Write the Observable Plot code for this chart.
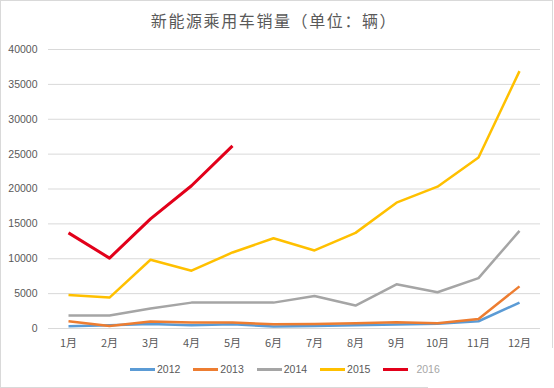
<!DOCTYPE html>
<html>
<head>
<meta charset="utf-8">
<script src="https://cdn.jsdelivr.net/npm/d3@7"></script>
<script src="https://cdn.jsdelivr.net/npm/@observablehq/plot@0.6"></script>
<style>
  html, body { margin: 0; padding: 0; background: #fff; }
  #wrap { position: relative; width: 554px; height: 388px; overflow: hidden; background: #fff; }
  #title { position: absolute; left: 0; width: 548px; top: 9px; text-align: center;
    font-family: "Noto Sans CJK SC", sans-serif; font-size: 16px; letter-spacing: 1.6px; color: #595959; line-height: 22px; }
  #chart { position: absolute; left: 0; top: 0; }
  #legend { position: absolute; left: 130px; top: 361px; display: flex; align-items: center;
    font-family: "Liberation Sans", Arial, sans-serif; font-size: 10.5px; color: #595959; line-height: 16px; }
  .item { display: flex; align-items: center; margin-right: 13px; }
  .sw { width: 25px; height: 3px; margin-right: 2px; }
  .b { position: absolute; background: #d9d9d9; }
</style>
</head>
<body>
<div id="wrap">
  <div class="b" style="left:0;top:0;width:1px;height:388px"></div>
  <div class="b" style="left:0;top:0;width:553px;height:1px"></div>
  <div class="b" style="left:552px;top:0;width:1px;height:348px"></div>
  <div class="b" style="left:0;top:387px;width:428px;height:1px"></div>
  <div id="chart"></div>
  <div id="title"></div>
  <div id="legend"></div>
</div>
<script>
const titleText = "新能源乘用车销量（单位：辆）";
const months = ["1月","2月","3月","4月","5月","6月","7月","8月","9月","10月","11月","12月"];
const years = ["2012","2013","2014","2015","2016"];
const colors = ["#5B9BD5","#ED7D31","#A5A5A5","#FFC000","#E2001A"];
const yTicks = [0,5000,10000,15000,20000,25000,30000,35000,40000];
const s2012 = [330, 470, 660, 470, 600, 290, 370, 470, 570, 680, 1040, 3710];
const s2013 = [1040, 370, 1000, 860, 860, 610, 660, 760, 900, 760, 1370, 6040];
const s2014 = [1860, 1860, 2860, 3710, 3710, 3710, 4660, 3290, 6330, 5190, 7230, 14000];
const s2015 = [4800, 4430, 9860, 8290, 10900, 12940, 11190, 13710, 18040, 20330, 24510, 36900];
const s2016 = [13710, 10090, 15710, 20470, 26190];

const series = [s2012, s2013, s2014, s2015, s2016];
const data = series.flatMap((vals, i) => vals.map((v, j) => ({year: years[i], month: months[j], value: v})));

document.getElementById("title").textContent = titleText;

const chart = Plot.plot({
  width: 554,
  height: 388,
  marginTop: 49,
  marginBottom: 60,
  marginLeft: 46,
  marginRight: 14,
  style: {fontFamily: "'Liberation Sans', Arial, sans-serif", fontSize: "10.5px", color: "#595959", background: "transparent"},
  x: {type: "point", domain: months, padding: 0.5, label: null},
  y: {domain: [0, 40000], label: null},
  color: {domain: years, range: colors},
  marks: [
    Plot.gridY(yTicks, {stroke: "#d9d9d9", strokeOpacity: 1, insetLeft: 2}),
    Plot.ruleY([0], {stroke: "#d9d9d9", insetLeft: 2}),
    Plot.axisY(yTicks, {tickSize: 0, tickPadding: 9, tickFormat: d => String(d), label: null, fill: "#595959"}),
    Plot.axisX({tickSize: 0, tickPadding: 11, label: null, fill: "#595959", fontFamily: "'Noto Sans CJK SC', sans-serif", fontSize: 11}),
    Plot.lineY(data, {x: "month", y: "value", z: "year", stroke: "year",
      strokeWidth: d => d.year === "2016" ? 3 : 2.5, strokeLinejoin: "round", strokeLinecap: "butt"})
  ]
});
document.getElementById("chart").appendChild(chart);

const legend = document.getElementById("legend");
years.forEach((y, i) => {
  const item = document.createElement("div");
  item.className = "item";
  const sw = document.createElement("div");
  sw.className = "sw";
  sw.style.background = colors[i];
  const t = document.createElement("span");
  t.textContent = y;
  if (y === "2016") { t.style.color = "#a6a6a6"; sw.style.marginRight = "8px"; }
  item.appendChild(sw);
  item.appendChild(t);
  legend.appendChild(item);
});
</script>
</body>
</html>
